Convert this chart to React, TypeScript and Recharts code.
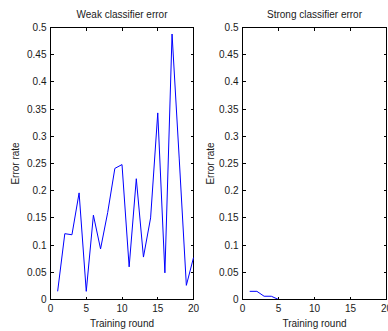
import React from 'react';
import { LineChart, Line, XAxis, YAxis, ReferenceArea } from 'recharts';

const rounds = [1, 2, 3, 4, 5, 6, 7, 8, 9, 10, 11, 12, 13, 14, 15, 16, 17, 18, 19, 20];
const weakError = [0.015, 0.121, 0.119, 0.196, 0.015, 0.155, 0.093, 0.16, 0.241, 0.248, 0.06, 0.222, 0.078, 0.15, 0.343, 0.049, 0.488, 0.26, 0.026, 0.077];
const strongRounds = [1, 2, 3, 4, 5];
const strongError = [0.015, 0.015, 0.006, 0.006, 0];
const xTicks = [0, 5, 10, 15, 20];
const yTicks = [0, 0.05, 0.1, 0.15, 0.2, 0.25, 0.3, 0.35, 0.4, 0.45, 0.5];
const yTickLabels = ['0', '0.05', '0.1', '0.15', '0.2', '0.25', '0.3', '0.35', '0.4', '0.45', '0.5'];

const weakData = rounds.map((r, i) => ({ round: r, err: weakError[i] }));
const strongData = strongRounds.map((r, i) => ({ round: r, err: strongError[i] }));

const FONT = 'Liberation Sans, Arial, sans-serif';
const TEXT = '#1a1a1a';
const AXIS = '#000000';
const PLOT_TOP = 27.5;
const PLOT_BOTTOM = 299.5;
const TICK_LEN = 3;

const fmtY = (v: number) => {
  const i = yTicks.findIndex((t) => Math.abs(t - v) < 1e-9);
  return i >= 0 ? yTickLabels[i] : String(v);
};

function XTick(props: any) {
  const { x, y, payload } = props;
  return (
    <g>
      <line x1={x} x2={x} y1={PLOT_BOTTOM} y2={PLOT_BOTTOM - TICK_LEN} stroke={AXIS} strokeWidth={1} shapeRendering="crispEdges" />
      <line x1={x} x2={x} y1={PLOT_TOP} y2={PLOT_TOP + TICK_LEN} stroke={AXIS} strokeWidth={1} shapeRendering="crispEdges" />
      <text x={x} y={y} dy="0.71em" textAnchor="middle" fontSize={10} fill={TEXT} fontFamily={FONT}>
        {String(payload.value)}
      </text>
    </g>
  );
}

function makeYTick(plotLeft: number, plotRight: number) {
  return (props: any) => {
    const { x, y, payload } = props;
    return (
      <g>
        <line x1={plotLeft} x2={plotLeft + TICK_LEN} y1={y} y2={y} stroke={AXIS} strokeWidth={1} shapeRendering="crispEdges" />
        <line x1={plotRight} x2={plotRight - TICK_LEN} y1={y} y2={y} stroke={AXIS} strokeWidth={1} shapeRendering="crispEdges" />
        <text x={x} y={y} dy="0.355em" textAnchor="end" fontSize={10} fill={TEXT} fontFamily={FONT}>
          {fmtY(payload.value)}
        </text>
      </g>
    );
  };
}

function renderPanel(data: any[], yAxisWidth: number, width: number, rightMargin: number, labelOffset: number) {
  const plotLeft = yAxisWidth;
  const plotRight = width - rightMargin;
  return (
    <LineChart
      width={width}
      height={331}
      data={data}
      margin={{ top: PLOT_TOP, right: rightMargin, bottom: 0, left: 0 }}
    >
      <XAxis
        dataKey="round"
        type="number"
        domain={[0, 20]}
        ticks={xTicks}
        interval={0}
        height={331 - PLOT_BOTTOM}
        tickSize={0}
        tickMargin={5}
        tickLine={false}
        stroke={AXIS}
        axisLine={{ stroke: AXIS, strokeWidth: 1, shapeRendering: 'crispEdges' }}
        tick={XTick}
        label={{ value: 'Training round', position: 'insideBottom', offset: 4, style: { fontSize: 10, fill: TEXT, fontFamily: FONT } }}
      />
      <YAxis
        type="number"
        domain={[0, 0.5]}
        ticks={yTicks}
        interval={0}
        width={yAxisWidth}
        tickSize={0}
        tickMargin={4}
        tickLine={false}
        stroke={AXIS}
        axisLine={{ stroke: AXIS, strokeWidth: 1, shapeRendering: 'crispEdges' }}
        tick={makeYTick(plotLeft, plotRight)}
        label={{ value: 'Error rate', angle: -90, position: 'insideLeft', offset: labelOffset, style: { textAnchor: 'middle', fontSize: 10, fill: TEXT, fontFamily: FONT } }}
      />
      <ReferenceArea x1={0} x2={20} y1={0} y2={0.5} stroke={AXIS} strokeWidth={1} fill="none" shapeRendering="crispEdges" />
      <Line
        type="linear"
        dataKey="err"
        stroke="#0000ff"
        strokeWidth={1}
        dot={false}
        isAnimationActive={false}
      />
    </LineChart>
  );
}

const titleStyle: React.CSSProperties = {
  position: 'absolute',
  top: 9,
  fontSize: 10,
  fontFamily: FONT,
  color: TEXT,
  textAlign: 'center',
  lineHeight: '12px',
  whiteSpace: 'nowrap',
};

export default function App() {
  return (
    <div style={{ position: 'absolute', left: 0, top: 0, width: 388, height: 331, background: '#fff' }}>
      <div style={{ position: 'absolute', left: 0, top: 0 }}>
        {renderPanel(weakData, 50.5, 200, 6.5, 15)}
      </div>
      <div style={{ position: 'absolute', left: 194, top: 0 }}>
        {renderPanel(strongData, 48.5, 194, 1.5, 16)}
      </div>
      <div style={{ ...titleStyle, left: 51, width: 142 }}>Weak classifier error</div>
      <div style={{ ...titleStyle, left: 243, width: 143 }}>Strong classifier error</div>
    </div>
  );
}
